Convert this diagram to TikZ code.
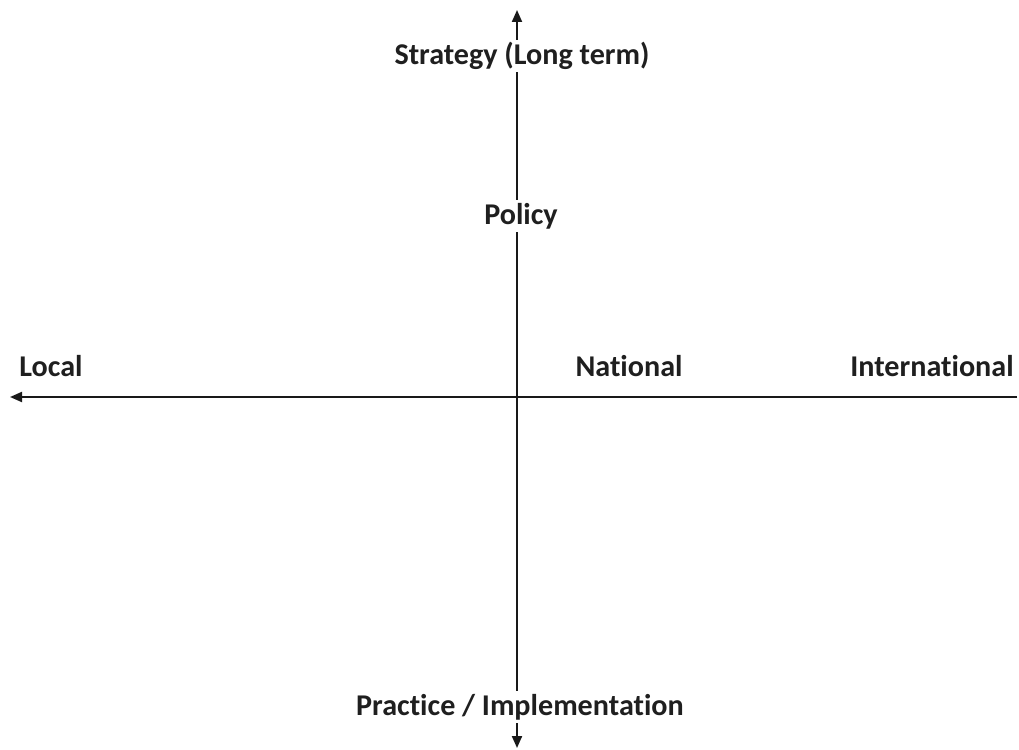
\documentclass[tikz,border=0pt]{standalone}
\usepackage{fontspec}
\setmainfont{Carlito}[Ligatures=NoCommon,Contextuals=NoAlternate]
\usetikzlibrary{arrows.meta}
\begin{document}
\begin{tikzpicture}[x=0.75pt,y=-0.75pt,
  >={Triangle[length=9pt,width=7.5pt]},
  axis/.style={line width=1.5pt,black!90},
  lbl/.style={font=\bfseries\fontsize{22.6}{27}\selectfont,text=black!88,inner sep=2pt}]
\useasboundingbox (0,0) rectangle (1019,749);
% axis end points
\coordinate (top) at (517,10);
\coordinate (bottom) at (517,748);
\coordinate (left) at (10,397);
\coordinate (right) at (1017,397);
% axes
\draw[axis,<->] (bottom) -- (top);
\draw[axis,->] (right) -- (left);
% labels
\node[lbl,fill=white] (strategy) at (522,56) {Strategy (Long term)};
\node[lbl,fill=white] (policy) at (521,216) {Policy};
\node[lbl] (local) at (51,366) {Local};
\node[lbl] (national) at (629,366) {National};
\node[lbl] (international) at (932,366) {International};
\node[lbl,fill=white] (practice) at (520,707) {Practice / Implementation};
\end{tikzpicture}
\end{document}
